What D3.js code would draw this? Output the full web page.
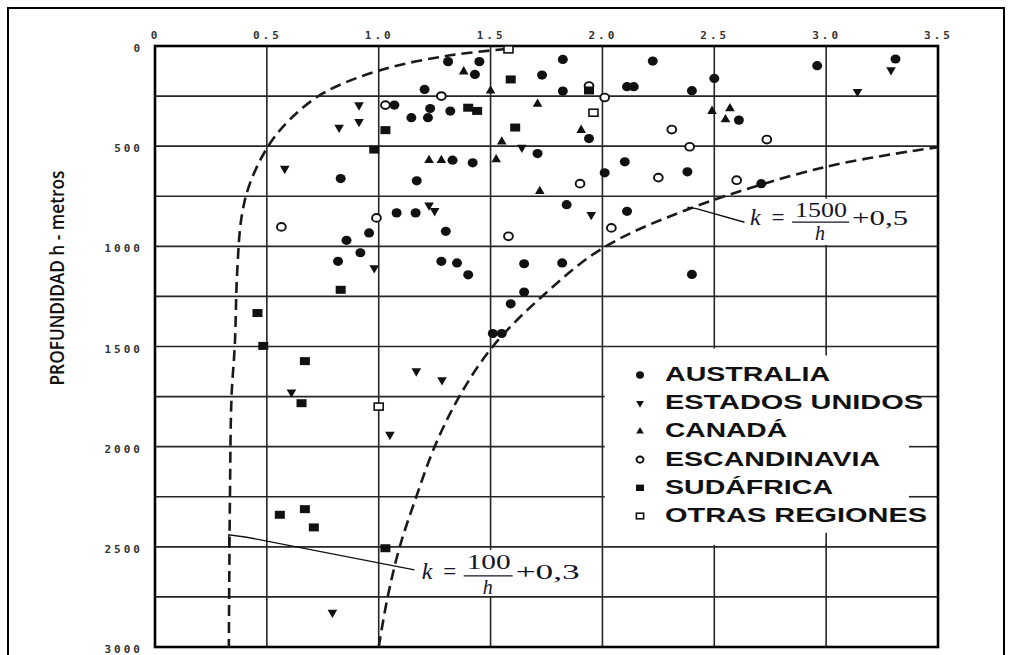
<!DOCTYPE html>
<html>
<head>
<meta charset="utf-8">
<script src="https://cdn.jsdelivr.net/npm/d3@7"></script>
<style>
  body { margin: 0; background: #fff; }
  svg { display: block; }
</style>
</head>
<body>
<script>
// Datos (k = razón de esfuerzos, h = profundidad en metros)
const kTicks = [0, 0.5, 1.0, 1.5, 2.0, 2.5, 3.0, 3.5];
const hTicks = [0, 500, 1000, 1500, 2000, 2500, 3000];
const kGrid = [0.5, 1.0, 1.5, 2.0, 2.5, 3.0];
const hGrid = [250, 500, 750, 1000, 1250, 1500, 1750, 2000, 2250, 2500, 2750];

const australia = [
  [1.31, 78], [1.45, 78], [1.43, 142], [1.73, 145], [1.205, 217], [1.07, 295],
  [1.23, 312], [1.32, 325], [1.146, 358], [1.22, 358], [1.71, 537], [1.33, 570],
  [1.42, 583], [0.83, 662], [1.17, 673], [1.08, 833], [1.165, 833], [1.30, 925],
  [0.957, 933], [0.856, 970], [0.918, 1032], [0.818, 1075], [1.28, 1075], [1.35, 1083],
  [1.40, 1142], [1.65, 1087], [1.65, 1228], [1.59, 1287], [1.51, 1435], [1.55, 1435],
  [1.823, 67], [2.225, 75], [1.823, 225], [2.11, 203], [2.14, 203], [2.40, 223],
  [2.50, 162], [2.96, 98], [3.31, 65], [2.61, 370], [1.94, 462], [2.10, 578],
  [2.01, 633], [2.38, 628], [2.71, 687], [1.84, 792], [2.11, 825], [1.82, 1083],
  [2.40, 1140]
];
const estadosUnidos = [
  [0.912, 295], [0.912, 378], [0.823, 407], [0.58, 612], [1.225, 795], [1.25, 823],
  [0.98, 1108], [1.64, 507], [1.95, 842], [3.14, 228], [3.29, 120], [0.61, 1728],
  [1.168, 1623], [1.283, 1667], [1.05, 1940], [0.793, 2828]
];
const canada = [
  [1.38, 128], [1.50, 223], [1.71, 290], [1.225, 570], [1.28, 570], [1.55, 478],
  [1.525, 567], [1.72, 725], [2.49, 325], [2.57, 312], [2.55, 367], [1.905, 420]
];
const escandinavia = [
  [1.28, 250], [1.03, 295], [0.565, 903], [0.99, 858], [1.58, 950], [1.94, 200],
  [2.01, 257], [2.31, 417], [2.735, 467], [2.39, 503], [1.90, 687], [2.25, 657],
  [2.60, 670], [2.04, 908]
];
const sudafrica = [
  [1.59, 167], [1.40, 308], [1.44, 324], [1.61, 407], [1.03, 420], [0.98, 517],
  [0.83, 1217], [0.458, 1333], [0.484, 1497], [1.94, 222], [0.67, 1573], [0.655, 1783],
  [0.558, 2340], [0.67, 2312], [0.71, 2403], [1.03, 2507]
];
const otrasRegiones = [[1.58, 17], [1.96, 333], [1.0, 1800]];

// Curvas límite
const curveLow = [
  [1.57, 15], [1.30, 50], [1.0, 123], [0.75, 237], [0.60, 370], [0.506, 500],
  [0.424, 687], [0.387, 853], [0.367, 1137], [0.357, 1487], [0.342, 1753],
  [0.335, 2253], [0.33, 3000]
];
const curveHigh = [
  [1.0, 3000], [1.04, 2750], [1.094, 2500], [1.168, 2250], [1.25, 2000], [1.36, 1750],
  [1.51, 1500], [1.74, 1240], [2.0, 1010], [2.39, 812], [3.0, 603], [3.5, 505]
];

const legendLabels = ['AUSTRALIA', 'ESTADOS UNIDOS', 'CANADÁ', 'ESCANDINAVIA', 'SUDÁFRICA', 'OTRAS REGIONES'];
const legendTypes = ['circle', 'down', 'up', 'ocircle', 'square', 'osquare'];

// Dimensiones
const width = 1013, height = 655;
const svg = d3.select('body').append('svg')
  .attr('width', width)
  .attr('height', height);

const ks = d3.scaleLinear().domain([0, 3.5]).range([155, 938]);
const hs = d3.scaleLinear().domain([0, 3000]).range([46, 647]);

const ink = '#111';
const gridColor = '#262626';

// marco exterior
svg.append('rect')
  .attr('x', 8).attr('y', 8)
  .attr('width', 996).attr('height', 680)
  .attr('fill', 'none').attr('stroke', '#000').attr('stroke-width', 2);

// rejilla
const grid = svg.append('g').attr('stroke', gridColor).attr('stroke-width', 1.6);
grid.selectAll('.vline').data(kGrid).join('line')
  .attr('x1', d => ks(d)).attr('x2', d => ks(d))
  .attr('y1', hs(0)).attr('y2', hs(3000));
grid.selectAll('.hline').data(hGrid).join('line')
  .attr('x1', ks(0)).attr('x2', ks(3.5))
  .attr('y1', d => hs(d)).attr('y2', d => hs(d));

// cajas blancas de leyenda y fórmulas
const boxes = [
  { k0: 2.01, k1: 3.49, h0: 1510, h1: 2490 },
  { k0: 2.635, k1: 3.35, h0: 762, h1: 993 },
  { k0: 1.17, k1: 1.945, h0: 2515, h1: 2745 }
];
svg.append('g').selectAll('rect').data(boxes).join('rect')
  .attr('x', d => ks(d.k0)).attr('y', d => hs(d.h0))
  .attr('width', d => ks(d.k1) - ks(d.k0))
  .attr('height', d => hs(d.h1) - hs(d.h0))
  .attr('fill', '#fff');

// trocitos de rejilla dentro de la leyenda
const stubs = svg.append('g').attr('stroke', gridColor).attr('stroke-width', 1.6);
stubs.selectAll('.hs').data([1750, 2000, 2250]).join('line')
  .attr('x1', ks(3.37)).attr('x2', ks(3.5))
  .attr('y1', d => hs(d)).attr('y2', d => hs(d));
stubs.selectAll('.vs').data([[1500, 1545], [2430, 2500]]).join('line')
  .attr('x1', ks(3.0)).attr('x2', ks(3.0))
  .attr('y1', d => hs(d[0])).attr('y2', d => hs(d[1]));

// marco del gráfico
svg.append('rect')
  .attr('x', ks(0)).attr('y', hs(0))
  .attr('width', ks(3.5) - ks(0)).attr('height', hs(3000) - hs(0))
  .attr('fill', 'none').attr('stroke', '#000').attr('stroke-width', 2.6);

// ejes
const xAxis = svg.append('g')
  .attr('transform', `translate(0,${hs(0)})`)
  .call(d3.axisTop(ks).tickValues(kTicks).tickSize(0).tickPadding(7)
    .tickFormat(d => d === 0 ? '0' : d.toFixed(1)));
const yAxis = svg.append('g')
  .attr('transform', `translate(${ks(0)},0)`)
  .call(d3.axisLeft(hs).tickValues(hTicks).tickSize(0).tickPadding(12)
    .tickFormat(d => String(d)));
[xAxis, yAxis].forEach(a => {
  a.select('.domain').remove();
  a.selectAll('text')
    .attr('fill', '#333')
    .style('font-family', '"DejaVu Sans Mono", monospace')
    .style('font-weight', 'bold')
    .style('font-size', '11px')
    .style('letter-spacing', '3px');
});
yAxis.selectAll('text').attr('dy', '0.5em');

svg.append('text')
  .attr('transform', `translate(64,278) rotate(-90)`)
  .attr('text-anchor', 'middle')
  .attr('textLength', 215)
  .attr('lengthAdjust', 'spacingAndGlyphs')
  .style('font-family', '"Open Sans", sans-serif')
  .style('font-size', '20px')
  .style('font-weight', '600')
  .attr('fill', ink)
  .text('PROFUNDIDAD h - metros');

// curvas
const line = d3.line().x(d => ks(d[0])).y(d => hs(d[1])).curve(d3.curveCatmullRom);
svg.append('g').selectAll('path').data([curveLow, curveHigh]).join('path')
  .attr('d', line)
  .attr('fill', 'none')
  .attr('stroke', '#1a1a1a')
  .attr('stroke-width', 2.6)
  .attr('stroke-dasharray', '11,6');

// marcadores
function drawMarker(g, type, s) {
  if (type === 'circle') {
    g.append('ellipse').attr('rx', 5 * s).attr('ry', 4.6 * s).attr('fill', ink);
  } else if (type === 'ocircle') {
    g.append('ellipse').attr('rx', 4.4 * s).attr('ry', 3.9 * s)
      .attr('fill', '#fff').attr('stroke', ink).attr('stroke-width', 1.9);
  } else if (type === 'square') {
    g.append('rect').attr('x', -5 * s).attr('y', -4 * s)
      .attr('width', 10 * s).attr('height', 8 * s).attr('fill', ink);
  } else if (type === 'osquare') {
    g.append('rect').attr('x', -4.5 * s).attr('y', -3.5 * s)
      .attr('width', 9 * s).attr('height', 7 * s)
      .attr('fill', '#fff').attr('stroke', ink).attr('stroke-width', 1.6);
  } else {
    g.append('path')
      .attr('d', d3.symbol(d3.symbolTriangle, 40 * s * s)())
      .attr('transform', type === 'down' ? 'rotate(180)' : null)
      .attr('fill', ink);
  }
}

const series = [
  [australia, 'circle'], [estadosUnidos, 'down'], [canada, 'up'],
  [escandinavia, 'ocircle'], [sudafrica, 'square'], [otrasRegiones, 'osquare']
];
const pts = svg.append('g');
series.forEach(([data, type]) => {
  data.forEach(d => {
    const g = pts.append('g').attr('transform', `translate(${ks(d[0])},${hs(d[1])})`);
    drawMarker(g, type, 1);
  });
});

// leyenda
const legendWidths = [165, 258, 122, 215, 168, 262];
const legend = svg.append('g');
legendLabels.forEach((lab, i) => {
  const y = 381 + i * 28.2;
  const m = legend.append('g').attr('transform', `translate(640,${y - 6})`);
  drawMarker(m, legendTypes[i], 0.8);
  legend.append('text')
    .attr('x', 665).attr('y', y)
    .attr('textLength', legendWidths[i])
    .attr('lengthAdjust', 'spacingAndGlyphs')
    .style('font-family', '"Liberation Sans", Arial, sans-serif')
    .style('font-weight', 'bold')
    .style('font-size', '20px')
    .attr('fill', ink)
    .text(lab);
});

// líneas de referencia a las fórmulas
const leaders = [
  [[2.38, 805], [2.42, 812], [2.635, 880]],
  [[0.33, 2505], [0.33, 2440], [0.41, 2452], [1.16, 2615]]
];
svg.append('g').selectAll('path').data(leaders).join('path')
  .attr('d', d3.line().x(d => ks(d[0])).y(d => hs(d[1])))
  .attr('fill', 'none').attr('stroke', ink).attr('stroke-width', 1.4);

// fórmulas
function formula(x0, y0, num, numW, tail, tailW, dyNum) {
  const f = svg.append('g')
    .style('font-family', '"Liberation Serif", "DejaVu Serif", serif')
    .attr('fill', '#141428');
  f.append('text').attr('x', x0).attr('y', y0)
    .style('font-style', 'italic').style('font-size', '24px').text('k');
  f.append('text').attr('x', x0 + 28).attr('y', y0).attr('text-anchor', 'middle')
    .style('font-size', '23px').text('=');
  f.append('text').attr('x', x0 + 45).attr('y', y0 + dyNum)
    .attr('textLength', numW).attr('lengthAdjust', 'spacingAndGlyphs')
    .style('font-size', '20px').text(num);
  f.append('line')
    .attr('x1', x0 + 42).attr('x2', x0 + 47 + numW)
    .attr('y1', y0 - 3).attr('y2', y0 - 3)
    .attr('stroke', '#141428').attr('stroke-width', 1.2);
  f.append('text').attr('x', x0 + 44 + numW / 2).attr('y', y0 + 15)
    .attr('text-anchor', 'middle')
    .style('font-style', 'italic').style('font-size', '20px').text('h');
  f.append('text').attr('x', x0 + 50 + numW).attr('y', y0)
    .attr('textLength', tailW).attr('lengthAdjust', 'spacingAndGlyphs')
    .style('font-size', '21px').text(tail);
}
formula(ks(2.66), hs(894), '1500', 52, '+0,5', 56, -8);
formula(ks(1.192), hs(2660), '100', 44, '+0,3', 64, -10);
</script>
</body>
</html>
